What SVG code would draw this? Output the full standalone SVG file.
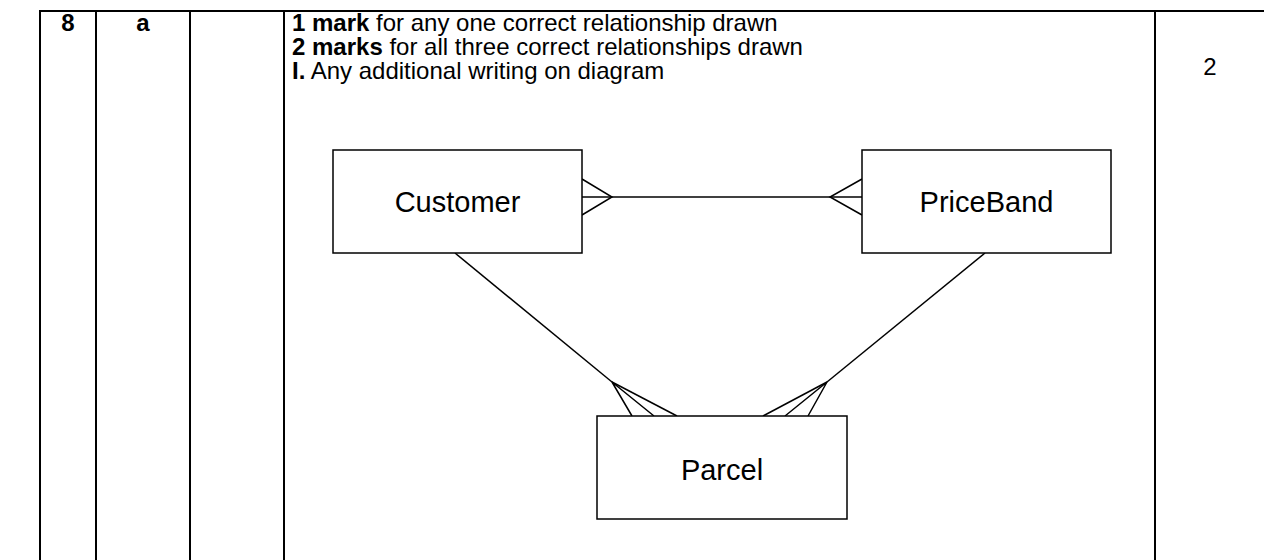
<svg xmlns="http://www.w3.org/2000/svg" width="1264" height="560" viewBox="0 0 1264 560">
  <style>
    .grid { stroke: #000; stroke-width: 2; fill: none; }
    .box { stroke: #000; stroke-width: 1.5; fill: #fff; }
    .rel { stroke: #000; stroke-width: 1.5; fill: none; }
    .txt { font-family: "Liberation Sans", Arial, sans-serif; font-size: 24px; fill: #000; }
    .b { font-weight: bold; }
    .ent { font-family: "Liberation Sans", Arial, sans-serif; font-size: 29px; fill: #000; text-anchor: middle; }
  </style>
  <rect width="1264" height="560" fill="#fff"/>

  <!-- mark scheme table -->
  <g id="table" class="grid">
    <line x1="40" y1="11" x2="1264" y2="11"/>
    <line x1="40" y1="10" x2="40" y2="560"/>
    <line x1="96" y1="10" x2="96" y2="560"/>
    <line x1="190" y1="10" x2="190" y2="560"/>
    <line x1="284" y1="10" x2="284" y2="560"/>
    <line x1="1155" y1="10" x2="1155" y2="560"/>
  </g>

  <g id="question">
    <text class="txt b" x="68" y="31" text-anchor="middle">8</text>
    <text class="txt b" x="143" y="31" text-anchor="middle">a</text>
  </g>

  <g id="guidance">
    <text class="txt" x="292" y="31"><tspan class="b">1 mark</tspan> for any one correct relationship drawn</text>
    <text class="txt" x="292" y="55"><tspan class="b">2 marks</tspan> for all three correct relationships drawn</text>
    <text class="txt" x="292" y="79"><tspan class="b">I.</tspan> Any additional writing on diagram</text>
  </g>

  <g id="marks">
    <text class="txt" x="1210" y="75" text-anchor="middle">2</text>
  </g>

  <!-- relationships -->
  <g id="connectors" class="rel">
    <!-- Customer many-to-many PriceBand -->
    <line x1="582" y1="197" x2="862" y2="197"/>
    <polyline points="582,179 612,197 582,215"/>
    <polyline points="862,179 830,197 862,215"/>
    <!-- Customer one-to-many Parcel -->
    <line x1="455" y1="253" x2="612" y2="382"/>
    <polyline points="632,416 612,382 654,416"/>
    <line x1="612" y1="382" x2="677" y2="416"/>
    <!-- PriceBand one-to-many Parcel -->
    <line x1="985" y1="253" x2="827" y2="382"/>
    <polyline points="808,416 827,382 785,416"/>
    <line x1="827" y1="382" x2="763" y2="416"/>
  </g>

  <g id="customer">
    <rect class="box" x="333" y="150" width="249" height="103"/>
    <text class="ent" x="457.5" y="212">Customer</text>
  </g>

  <g id="priceband">
    <rect class="box" x="862" y="150" width="249" height="103"/>
    <text class="ent" x="986.5" y="212">PriceBand</text>
  </g>

  <g id="parcel">
    <rect class="box" x="597" y="416" width="250" height="103"/>
    <text class="ent" x="722" y="480">Parcel</text>
  </g>
</svg>
